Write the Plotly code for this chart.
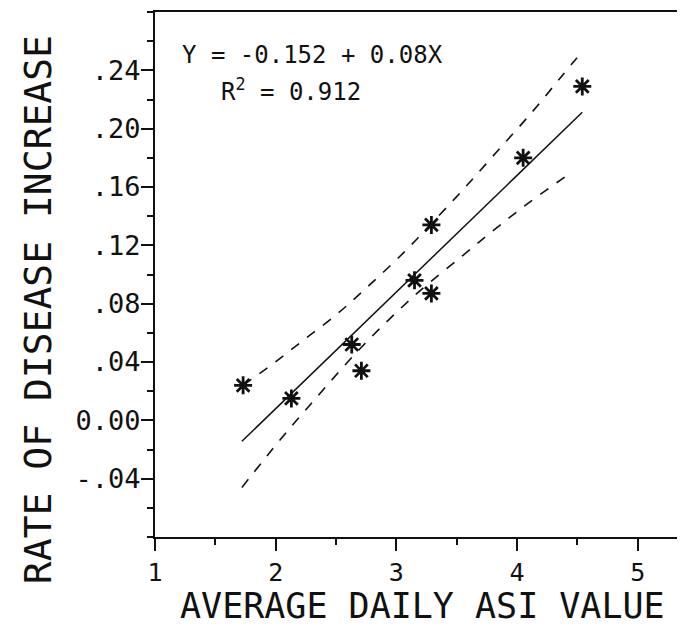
import plotly.graph_objects as go

# ---- data ----
asi_value = [1.73, 2.13, 2.63, 2.71, 3.15, 3.29, 3.29, 4.05, 4.54]
disease_rate = [0.024, 0.015, 0.052, 0.034, 0.096, 0.134, 0.087, 0.180, 0.229]

fit_intercept = -0.152
fit_slope = 0.08
fit_x = [1.72, 4.54]
fit_y = [fit_intercept + fit_slope * v for v in fit_x]

upper_x = [1.73, 1.98, 2.23, 2.51, 2.78, 3.06, 3.28, 3.55, 3.83, 4.11, 4.38, 4.54]
upper_y = [0.024, 0.039, 0.055, 0.073, 0.093, 0.115, 0.134, 0.158, 0.184, 0.210, 0.237, 0.253]

lower_x = [1.72, 2.04, 2.31, 2.72, 3.17, 3.55, 3.83, 4.11, 4.45]
lower_y = [-0.046, -0.013, 0.013, 0.051, 0.087, 0.113, 0.132, 0.150, 0.170]

x_tickvals = [1, 2, 3, 4, 5]
x_ticktext = ["1", "2", "3", "4", "5"]
y_tickvals = [-0.04, 0.0, 0.04, 0.08, 0.12, 0.16, 0.20, 0.24]
y_ticktext = ["-.04", "0.00", ".04", ".08", ".12", ".16", ".20", ".24"]

x_title = "AVERAGE DAILY ASI VALUE"
y_title = "RATE OF DISEASE INCREASE"

FONT = "DejaVu Sans Mono"
INK = "#111111"

fig = go.Figure()

fig.add_trace(go.Scatter(x=upper_x, y=upper_y, mode="lines",
                         line=dict(color=INK, width=1.6, dash="10px,10px", shape="spline"),
                         hoverinfo="skip"))
fig.add_trace(go.Scatter(x=lower_x, y=lower_y, mode="lines",
                         line=dict(color=INK, width=1.6, dash="10px,10px", shape="spline"),
                         hoverinfo="skip"))
fig.add_trace(go.Scatter(x=fit_x, y=fit_y, mode="lines",
                         line=dict(color=INK, width=1.5)))
fig.add_trace(go.Scatter(x=asi_value, y=disease_rate, mode="markers",
                         marker=dict(symbol="asterisk-open", size=15, color=INK,
                                     line=dict(color=INK, width=2.8))))

# the page body adds an 8px offset, so the figure is sized to fill the rest
fig.update_layout(
    width=677, height=621,
    margin=dict(l=147, r=0, t=4, b=92),
    plot_bgcolor="white", paper_bgcolor="white",
    showlegend=False,
    font=dict(family=FONT, color=INK),
)

fig.update_xaxes(
    range=[1, 5.391],
    tickmode="array", tickvals=x_tickvals, ticktext=x_ticktext,
    tickfont=dict(size=25, family=FONT, color=INK),
    ticks="outside", ticklen=12, tickwidth=2, tickcolor=INK,
    minor=dict(tick0=1, dtick=0.5, ticks="outside", ticklen=6, tickwidth=2,
               tickcolor=INK, showgrid=False),
    showline=True, linecolor=INK, linewidth=2, mirror=True,
    showgrid=False, zeroline=False,
)
fig.update_yaxes(
    range=[-0.08, 0.28],
    tickmode="array", tickvals=y_tickvals, ticktext=y_ticktext,
    tickfont=dict(size=27, family=FONT, color=INK),
    ticks="outside", ticklen=12, tickwidth=2, tickcolor=INK,
    ticklabelstandoff=-5,
    minor=dict(tick0=0, dtick=0.02, ticks="outside", ticklen=6, tickwidth=2,
               tickcolor=INK, showgrid=False),
    showline=True, linecolor=INK, linewidth=2, mirror=False,
    showgrid=False, zeroline=False,
)

# axis titles
fig.add_annotation(text=x_title,
                   xref="paper", yref="paper", x=0.5047, y=-0.1735,
                   xanchor="center", yanchor="bottom", showarrow=False,
                   font=dict(size=35, family=FONT, color=INK))
fig.add_annotation(text=y_title, textangle=-90,
                   xref="paper", yref="paper", x=-0.2208, y=0.434,
                   xanchor="center", yanchor="middle", showarrow=False,
                   font=dict(size=38, family=FONT, color=INK))

# fit equation
fig.add_annotation(text="Y = -0.152 + 0.08X",
                   xref="x", yref="y", x=1.21, y=0.2505,
                   xanchor="left", yanchor="middle", showarrow=False,
                   font=dict(size=24, family=FONT, color=INK))
fig.add_annotation(text="R<sup>2</sup> = 0.912",
                   xref="x", yref="y", x=1.53, y=0.2266,
                   xanchor="left", yanchor="middle", showarrow=False,
                   font=dict(size=24, family=FONT, color=INK))

fig.write_html("out.html")
